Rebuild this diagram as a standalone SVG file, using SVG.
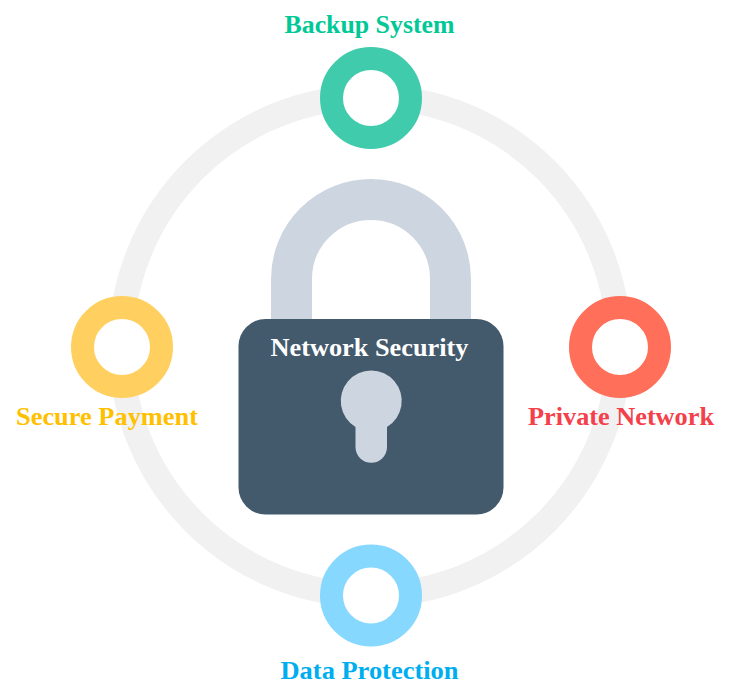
<svg xmlns="http://www.w3.org/2000/svg" width="731" height="700" viewBox="0 0 731 700">
<style>
.t{font-family:"Liberation Serif",Cambria,serif;font-weight:700;font-size:25px;text-anchor:middle}
.dot{fill:#fff;stroke-width:23}
.key{fill:#cdd6e0}
</style>
<rect width="731" height="700" fill="#fff"/>
<g id="connectors"><circle cx="370" cy="346" r="249" fill="none" stroke="#f1f1f1" stroke-width="25"/></g>
<g id="lock">
<path d="M291.500 325V279A79.500 79.500 0 0 1 450.500 279V325" fill="none" stroke="#cdd6e0" stroke-width="41"/>
<rect x="238.500" y="319" width="265" height="195.500" rx="27" fill="#435a6c"/>
<path class="key" d="M355.500 427A30.500 30.500 0 1 1 387 427V447A15.750 15.750 0 0 1 355.500 447Z"/>
<text class="t" x="369.500" y="356" fill="#fff" textLength="198" lengthAdjust="spacingAndGlyphs">Network Security</text>
</g>
<g id="backup"><circle class="dot" cx="371" cy="98" r="39.500" stroke="#40cbac"/><text class="t" x="369.500" y="33" fill="#00c896" textLength="170" lengthAdjust="spacingAndGlyphs">Backup System</text></g>
<g id="private"><circle class="dot" cx="620" cy="347" r="39.500" stroke="#ff6f59"/><text class="t" x="621" y="425" fill="#f4404a" textLength="186" lengthAdjust="spacingAndGlyphs">Private Network</text></g>
<g id="data"><circle class="dot" cx="371" cy="595.500" r="39.500" stroke="#87d8ff"/><text class="t" x="369.500" y="679" fill="#00aeef" textLength="178" lengthAdjust="spacingAndGlyphs">Data Protection</text></g>
<g id="payment"><circle class="dot" cx="122" cy="347" r="39.500" stroke="#ffd060"/><text class="t" x="107" y="425" fill="#ffc000" textLength="182" lengthAdjust="spacingAndGlyphs">Secure Payment</text></g>
</svg>
